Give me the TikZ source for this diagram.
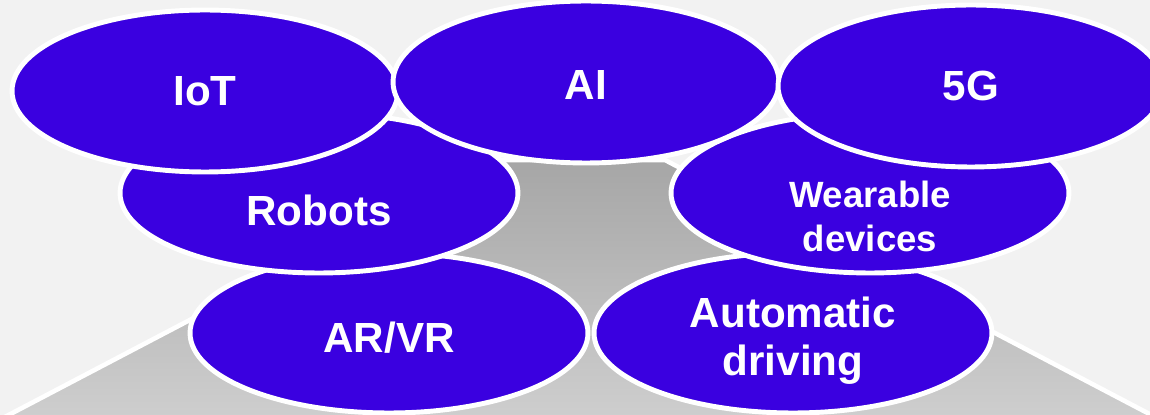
\documentclass[tikz,border=0pt]{standalone}
\usepackage{fontspec}
\setmainfont{Liberation Sans}
\usepackage{tikz}
\usetikzlibrary{shapes.geometric}
\definecolor{cbg}{RGB}{242,242,242}
\definecolor{cviolet}{RGB}{58,0,224}
\definecolor{cgraytop}{RGB}{166,166,166}
\definecolor{cgraybot}{RGB}{208,208,208}

\begin{document}
\begin{tikzpicture}[
    x=0.02cm, y=-0.02cm,
    oval/.style={ellipse, draw=white, line width=2.8pt, fill=cviolet, text=white, inner sep=0pt, align=center, font=\bfseries\fontsize{24}{27}\selectfont},
    upperoval/.style={oval, minimum width=7.72cm, minimum height=3.24cm},
    loweroval/.style={oval, minimum width=7.96cm, minimum height=3.2cm},
    lbl/.style={text=white, inner sep=0pt, align=center, font=\bfseries\fontsize{24}{27.5}\selectfont},
]
    \useasboundingbox (0,0) rectangle (1150,415);
    \fill[cbg] (0,0) rectangle (1150,415);
    \clip (0,0) rectangle (1150,415);

    % grey pyramid behind the bubbles
    \shadedraw[top color=cgraytop, bottom color=cgraybot, draw=white, line width=2.6pt]
        (495,160) -- (665,160) -- (1180,430) -- (-20,430) -- cycle;

    % bottom row
    \node[loweroval, label={[lbl, name=arvrtxt, yshift=-0.1cm]center:AR/VR}] (arvr) at (389,333) {};
    \node[loweroval, label={[lbl, name=drivingtxt, yshift=-0.16cm]center:Automatic\\driving}] (driving) at (793,333) {};

    % middle row
    \node[loweroval, label={[lbl, name=robotstxt, yshift=-0.34cm]center:Robots}] (robots) at (319,193) {};
    \node[loweroval, label={[lbl, name=weartxt, yshift=-0.46cm, font=\bfseries\fontsize{20.8}{25}\selectfont]center:Wearable\\devices}] (wearable) at (870,193) {};

    % top row
    \node[upperoval] (iot) at (205,91) {IoT};
    \node[upperoval, label={[lbl, name=aitxt, yshift=-0.06cm]center:AI}] (ai) at (586,82) {};
    \node[upperoval] (fiveg) at (971,86) {5G};
\end{tikzpicture}
\end{document}
